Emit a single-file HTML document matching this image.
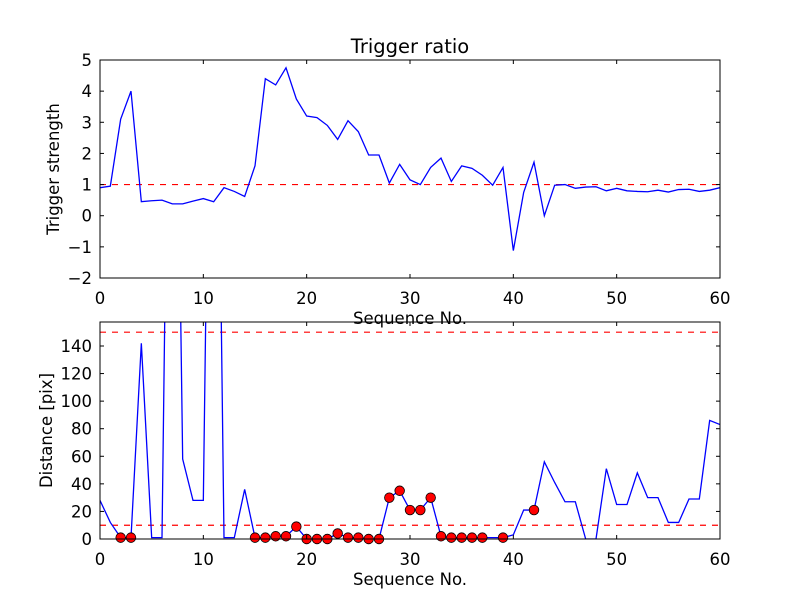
<!DOCTYPE html>
<html><head><meta charset="utf-8"><style>
body{margin:0;background:#fff;}
svg{display:block;font-family:"DejaVu Sans","Liberation Sans",sans-serif;}
</style></head><body>
<svg id="chart" width="800" height="600" viewBox="0 0 800 600">
<rect width="800" height="600" fill="#fff"/>
</svg>
<script>
const seqNo = [];
for (let i = 0; i <= 60; i++) seqNo.push(i);
const triggerStrength = [0.9,0.95,3.1,4.0,0.45,0.48,0.5,0.38,0.38,0.47,0.55,0.45,0.9,0.78,0.62,1.6,4.4,4.2,4.75,3.75,3.2,3.15,2.9,2.45,3.05,2.7,1.95,1.95,1.05,1.65,1.15,1.0,1.55,1.85,1.1,1.6,1.52,1.3,0.98,1.55,-1.12,0.75,1.72,0.0,0.98,1.0,0.88,0.92,0.93,0.8,0.88,0.8,0.78,0.77,0.82,0.76,0.84,0.85,0.78,0.82,0.9];
const distance = [28,12,1,1,142,1,1,600,58,28,28,600,1,1,36,1,1,2,2,9,0,0,0,4,1,1,0,0,30,35,21,21,30,2,1,1,1,1,1,1,3,21,21,56,41,27,27,0,0,51,25,25,48,30,30,12,12,29,29,86,83];
const markerIdx = [2,3,15,16,17,18,19,20,21,22,23,24,25,26,27,28,29,30,31,32,33,34,35,36,37,39,42];
const xTicks = [0,10,20,30,40,50,60];
const topYTicks = [-2,-1,0,1,2,3,4,5];
const botYTicks = [0,20,40,60,80,100,120,140];
const topThreshold = [1];
const botThresholds = [10,150];

const NS = "http://www.w3.org/2000/svg";
const svg = document.getElementById('chart');
function mk(tag, attrs, parent){const e=document.createElementNS(NS,tag);for(const k in attrs)e.setAttribute(k,attrs[k]);(parent||svg).appendChild(e);return e;}

function panel(cfg){
  const L=100,R=720,T=cfg.top,B=cfg.bottom;
  const sx=v=>L+(v-0)/(60-0)*(R-L);
  const sy=v=>B-(v-cfg.ymin)/(cfg.ymax-cfg.ymin)*(B-T);
  const g=mk('g',{});
  
  
  const cid='clip-'+cfg.name;
  const cp=mk('clipPath',{id:cid},g);mk('rect',{x:L,y:T,width:R-L,height:B-T},cp);
  const plot=mk('g',{'clip-path':'url(#'+cid+')'},g);
  cfg.thresholds.forEach(t=>{
    const l=mk('line',{x1:L,x2:R,y1:sy(t),y2:sy(t),stroke:'#ff0000','stroke-width':1.2,'stroke-dasharray':'6,6'},plot);
    
    
  });
  const pts=cfg.data.map((v,i)=>sx(seqNo[i]).toFixed(2)+','+sy(v).toFixed(2)).join(' ');
  const pl=mk('polyline',{points:pts,fill:'none',stroke:'#0000ff','stroke-width':1.3},plot);
  
  
  (cfg.markers||[]).forEach(i=>{
    const c=mk('circle',{cx:sx(seqNo[i]),cy:sy(cfg.data[i]),r:4.8,fill:'#ff0000',stroke:'#000','stroke-width':0.8},g);
    
    
  });
  mk('rect',{x:L,y:T,width:R-L,height:B-T,fill:'none',stroke:'#000','stroke-width':1},g);
  xTicks.forEach(t=>{
    const x=sx(t);
    mk('line',{x1:x,x2:x,y1:B,y2:B-4,stroke:'#000'},g);
    mk('line',{x1:x,x2:x,y1:T,y2:T+4,stroke:'#000'},g);
    const tx=mk('text',{x:x,y:B+26,'font-size':16.5,'text-anchor':'middle'},g);
    tx.textContent=t;
    
    
  });
  cfg.yticks.forEach(t=>{
    const y=sy(t);
    mk('line',{x1:L,x2:L+4,y1:y,y2:y,stroke:'#000'},g);
    mk('line',{x1:R,x2:R-4,y1:y,y2:y,stroke:'#000'},g);
    const tx=mk('text',{x:L-8,y:y+6,'font-size':16.5,'text-anchor':'end'},g);
    tx.textContent=(t<0?'\u2212'+(-t):t);
    
    
  });
  const xl=mk('text',{x:(L+R)/2,y:B+46,'font-size':16.5,'text-anchor':'middle'},g);
  xl.textContent='Sequence No.';
  
  
  const yx=cfg.ylabelX, yy=(T+B)/2;
  const yl=mk('text',{x:yx,y:yy,'font-size':16.5,'text-anchor':'middle',transform:'rotate(-90 '+yx+' '+yy+')'},g);
  yl.textContent=cfg.ylabel;
  
  
}
const title=mk('text',{x:410,y:53,'font-size':19.5,'text-anchor':'middle'});
title.textContent='Trigger ratio';


panel({name:'trigger-strength-panel',top:60,bottom:278,ymin:-2,ymax:5,data:triggerStrength,thresholds:topThreshold,yticks:topYTicks,ylabel:'Trigger strength',ylabelX:59});
panel({name:'distance-panel',top:322,bottom:539,ymin:0,ymax:157.4,data:distance,thresholds:botThresholds,yticks:botYTicks,ylabel:'Distance [pix]',ylabelX:52,markers:markerIdx});
</script>
</body></html>
